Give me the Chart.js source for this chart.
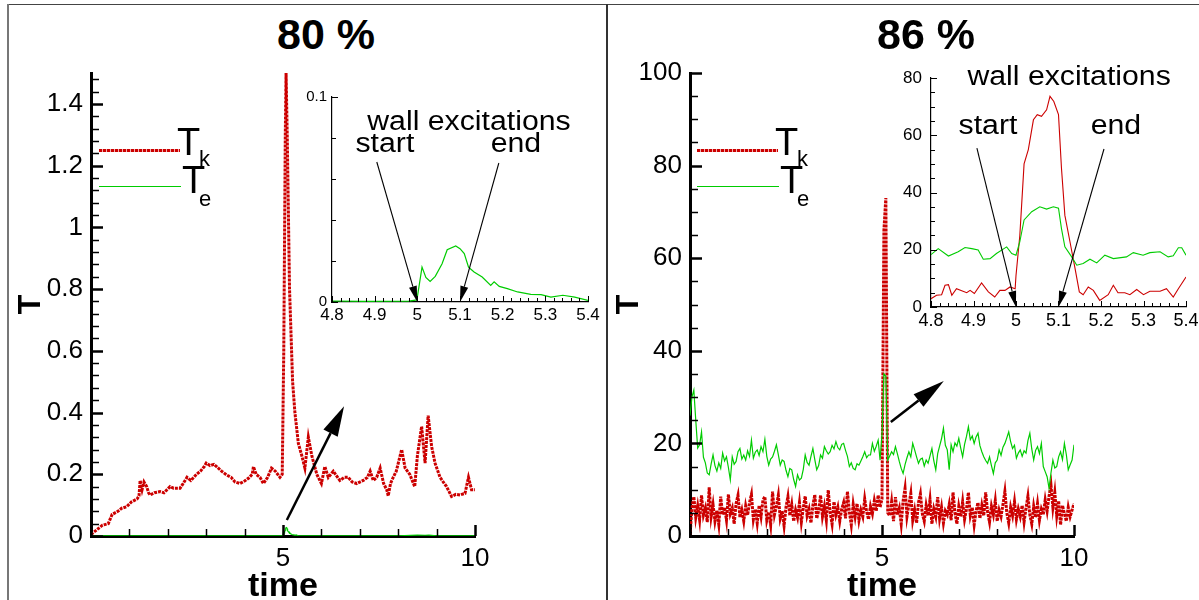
<!DOCTYPE html>
<html>
<head>
<meta charset="utf-8">
<script src="https://cdn.jsdelivr.net/npm/chart.js@4.4.0/dist/chart.umd.min.js"></script>
<style>
  body { margin: 0; background: #fff; }
  #page { position: relative; width: 1199px; height: 600px; overflow: hidden; background: #fff;
          font-family: "Liberation Sans", Arial, Helvetica, sans-serif; color: #000; }
  canvas { position: absolute; }
  .rule { position: absolute; background: #444; }
  .ttl { position: absolute; width: 200px; text-align: center; font-weight: bold; font-size: 43px; line-height: 43px; }
  .sym { position: absolute; font-size: 38px; line-height: 38px; }
  .sub { position: absolute; font-size: 22px; line-height: 22px; }
  .key { position: absolute; }
  .key.k { height: 3px; background: repeating-linear-gradient(to right, #cc0000 0 3px, #f2b0b0 3px 4px); }
  .key.e { height: 1px; background: #00cc00; }
  .over { z-index: 5; }
</style>
</head>
<body>
<div id="page">
  <div class="rule" style="left:8px;top:4px;width:1191px;height:1px"></div>
  <div class="rule" style="left:7px;top:4px;width:2px;height:596px;background:#777"></div>
  <div class="rule" style="left:606px;top:4px;width:2px;height:596px;background:#333"></div>

  <canvas id="leftMain" width="510" height="540" style="left:8px;top:60px"></canvas>
  <canvas id="leftZoom" width="304" height="240" style="left:296px;top:85px"></canvas>
  <canvas id="rightMain" width="500" height="540" style="left:612px;top:60px"></canvas>
  <canvas id="rightZoom" width="299" height="290" style="left:900px;top:40px"></canvas>

  <div class="ttl over" style="left:226px;top:13px">80 %</div>
  <div class="ttl over" style="left:826px;top:13px">86 %</div>

  <div class="key k over" style="left:99px;top:149px;width:81px"></div>
  <div class="key e over" style="left:99px;top:186px;width:82px"></div>
  <div class="sym over" style="left:177px;top:123px">T</div><div class="sub over" style="left:199px;top:148px">k</div>
  <div class="sym over" style="left:182px;top:161px">T</div><div class="sub over" style="left:199px;top:188px">e</div>

  <div class="key k over" style="left:697px;top:149px;width:81px"></div>
  <div class="key e over" style="left:697px;top:186px;width:82px"></div>
  <div class="sym over" style="left:775px;top:123px">T</div><div class="sub over" style="left:797px;top:148px">k</div>
  <div class="sym over" style="left:780px;top:161px">T</div><div class="sub over" style="left:797px;top:188px">e</div>
</div>

<script>
// ---- 80 % case: kinetic (Tk) and elastic (Te) parts over time ----
const leftTime = [0, 0.15, 0.3, 0.45, 0.55, 0.7, 0.8, 0.93, 1.05, 1.2, 1.25, 1.28, 1.33, 1.38, 1.45, 1.5, 1.54, 1.65, 1.8, 1.9,
  2.06, 2.15, 2.32, 2.4, 2.5, 2.6, 2.75, 2.85, 2.95, 3.0, 3.1, 3.2, 3.27, 3.4, 3.53, 3.65, 3.75, 3.88, 4.0, 4.1,
  4.2, 4.23, 4.3, 4.4, 4.49, 4.6, 4.7, 4.8, 4.92, 4.98, 5.02, 5.06, 5.08, 5.11, 5.17, 5.25, 5.31, 5.4, 5.49, 5.57,
  5.66, 5.75, 5.88, 6.0, 6.09, 6.18, 6.31, 6.48, 6.6, 6.7, 6.8, 6.92, 7.09, 7.2, 7.27, 7.35, 7.44, 7.53, 7.62, 7.7,
  7.74, 7.8, 7.87, 7.95, 8.09, 8.18, 8.3, 8.43, 8.5, 8.61, 8.7, 8.78, 8.87, 8.96, 9.09, 9.2, 9.26, 9.39, 9.5, 9.61,
  9.74, 9.83, 9.91, 10];
const leftTk = [0.005, 0.02, 0.035, 0.04, 0.07, 0.08, 0.09, 0.095, 0.11, 0.12, 0.13, 0.18, 0.15, 0.175, 0.16, 0.14, 0.133, 0.14, 0.144, 0.14,
  0.16, 0.155, 0.155, 0.17, 0.19, 0.18, 0.2, 0.21, 0.225, 0.236, 0.228, 0.232, 0.225, 0.21, 0.198, 0.19, 0.175, 0.17, 0.178, 0.187,
  0.2, 0.225, 0.2, 0.19, 0.17, 0.19, 0.22, 0.21, 0.19, 0.2, 0.6, 1.3, 1.5, 1.3, 0.8, 0.5, 0.4, 0.3, 0.26, 0.22,
  0.32, 0.26, 0.2, 0.17, 0.225, 0.19, 0.21, 0.18, 0.19, 0.19, 0.175, 0.17, 0.18, 0.19, 0.21, 0.18, 0.19, 0.22, 0.17, 0.15,
  0.13, 0.17, 0.19, 0.21, 0.28, 0.22, 0.2, 0.16, 0.26, 0.355, 0.236, 0.39, 0.29, 0.236, 0.19, 0.17, 0.16, 0.128, 0.135, 0.133,
  0.138, 0.19, 0.15, 0.15];
const leftTeTime = [0, 2, 4, 4.8, 4.873, 4.98, 4.999, 5.011, 5.02, 5.03, 5.042, 5.058, 5.07, 5.09, 5.1, 5.11, 5.12, 5.133, 5.152, 5.172,
  5.18, 5.192, 5.211, 5.235, 5.266, 5.29, 5.313, 5.341, 5.369, 5.4, 6, 7, 8, 8.5, 8.7, 8.8, 9, 10];
const leftTe = [0.0004, 0.0004, 0.0004, 0.0005, 0.0003, 0.0004, 0.001, 0.017, 0.012, 0.010, 0.0125, 0.0187, 0.0255, 0.0273, 0.026, 0.0236, 0.017, 0.0146, 0.0122, 0.0081,
  0.0098, 0.0076, 0.0065, 0.0049, 0.0037, 0.0036, 0.0024, 0.0033, 0.0024, 0.0008, 0.0005, 0.0004, 0.0008, 0.003, 0.0025, 0.003, 0.0006, 0.0004];

// ---- 86 % case, sampled every 0.05 time units ----
const rightTk = [
  0, 6, 8.5, 4, 6.5, 3.5, 8.8, 4.5, 6, 3, 10.5, 4.2, 6.8, 3.2, 5.5, 2.5, 8.5, 4.6, 6.2, 3.4,
  9, 4.8, 6, 2.6, 7, 8.8, 4, 5.6, 3.2, 6.5, 4.5, 7.2, 9, 3.6, 5.8, 2.8, 6.6, 4.2, 7.8, 8.5,
  3.4, 5.2, 2.4, 9.6, 4.6, 6.4, 8.8, 3.8, 5.4, 2.2, 6.2, 8.5, 4.4, 6.8, 3.2, 5.6, 4, 7.2, 3, 6,
  8.6, 4.4, 5.8, 2.8, 6.6, 8.9, 3.8, 5.4, 8.8, 4.2, 6.4, 3.4, 9.9, 5, 2.6, 7.4, 4.6, 6.2, 3.2, 5.8,
  7.2, 3.8, 9.6, 5.2, 2.4, 6.8, 4.2, 7, 3.4, 5.6, 4.2, 8, 5.2, 3.6, 6.4, 4.8, 7.6, 5.4, 8.8, 6.2,
  8, 66, 73, 5, 4.4, 7.4, 3.2, 8.4, 4.6, 6, 2.6, 7.6, 10.3, 4.2, 6.8, 9.2, 3.4, 5.6, 2.8, 7.2,
  9.1, 4.8, 3.2, 6.6, 4.4, 7.8, 2.6, 5.8, 4.2, 8.4, 3.8, 6.2, 2.8, 5.4, 4.6, 6.8, 3.4, 9.4, 5, 2.6,
  6.4, 4.2, 7.4, 3.6, 5.8, 9.4, 4.4, 6.2, 2.4, 5.4, 7.2, 3.8, 6.6, 4.4, 9.4, 5.2, 3, 6.4, 4.6, 7.6,
  3.2, 5.6, 4.2, 6.8, 9.6, 5, 2.8, 6.2, 4.4, 7.4, 3.6, 5.8, 4.2, 6.6, 3, 6, 8.6, 4.6, 2.6, 6.4,
  4, 7, 3.4, 5.8, 4.6, 7.8, 5.4, 8.6, 11, 6.2, 9.4, 4.4, 7.6, 2.4, 6.6, 4.8, 3.2, 6.2, 4.2, 5.6,
  7];
const rightTe = [
  26, 30, 31.5, 25, 19, 19.7, 22.5, 17, 15.8, 13.6, 13.2, 15.5, 17.5, 15.2, 14, 15.8, 14.6, 17.9, 16.2, 17.1,
  14.8, 12.1, 17.1, 15.5, 16.1, 18.2, 18.9, 16.6, 17.5, 16.4, 18.4, 17.2, 20.7, 16.8, 18.1, 18.6, 17.4, 19.3, 18.2, 20.9,
  17.2, 15.3, 16.6, 17.1, 18.3, 19.7, 17.6, 15.3, 16.4, 16.1, 14.2, 12.8, 14.6, 14.3, 12.2, 10.7, 13.2, 12.1, 12.5, 14.4,
  17.5, 15.9, 15.3, 17.2, 18.9, 16.5, 14.3, 15.2, 17.5, 16.8, 19.3, 18.4, 17.7, 18.2, 19.6, 18.8, 20.4, 19.1, 18.6, 19.8,
  20, 18.5, 17.2, 15, 15.8, 14.6, 14.3, 15.6, 15.3, 16.2, 17.1, 18.2, 16.9, 17.5, 17.5, 20, 18.3, 19.4, 20.7, 16.4,
  22, 35, 34.5, 16.4, 17.3, 18.2, 17.6, 19.3, 17.8, 16.1, 14.6, 13.5, 15.4, 16.9, 18.2, 17.1, 20, 18.6, 17.1, 15.7,
  16.6, 16.8, 15.1, 16.4, 15.7, 17.3, 18.9, 16.2, 14.3, 17.8, 19.4, 21, 23.3, 19.6, 18.6, 14.3, 19.7, 18.2, 20.1, 19.4,
  21.1, 19, 17.1, 19.8, 21.5, 23.6, 20.8, 21.6, 20, 21.4, 22.2, 19.5, 18.2, 17.1, 16.3, 15.7, 17.1, 15.2, 13.5, 15.8,
  16.4, 18.6, 17.4, 19.2, 20, 21.2, 22.5, 20.4, 18.9, 19.6, 16.8, 17.9, 18.6, 17.2, 18.4, 17.9, 20.6, 22.2, 18.8, 16.4,
  18.5, 19.3, 17.8, 20, 15, 13.9, 12.8, 10.3, 13.6, 16.4, 14.7, 15, 17.1, 18.2, 16.5, 20, 17.6, 14.3, 15.4, 16.4,
  19.7];
const rightTime = rightTk.map((_, i) => i * 0.05);

// ---- 86 % case, close-up of the excitation window ----
const zoomTkTime = [4.8, 4.813, 4.825, 4.833, 4.841, 4.849, 4.86, 4.884, 4.892, 4.902, 4.919, 4.935, 4.95, 4.962, 4.974, 4.986, 4.998, 5.0, 5.009, 5.019,
  5.029, 5.041, 5.05, 5.06, 5.072, 5.08, 5.089, 5.1, 5.107, 5.115, 5.127, 5.139, 5.149, 5.158, 5.17, 5.182, 5.197, 5.217, 5.229, 5.24,
  5.256, 5.268, 5.284, 5.3, 5.315, 5.339, 5.354, 5.37, 5.382, 5.4];
const zoomTk = [2.9, 4.1, 4.3, 7.6, 7.8, 4.1, 6.4, 5.0, 5.8, 4.7, 8.4, 5.3, 3.5, 5.8, 5.8, 7.0, 6.4, 11, 25, 50,
  55, 65.4, 67.2, 66.6, 68.9, 73.6, 71.8, 67.2, 48.5, 32, 22.8, 13.4, 5.3, 4.3, 7.0, 5.8, 2.3, 4.3, 7.6, 5.0,
  5.0, 4.3, 6.1, 4.3, 5.5, 5.5, 6.4, 3.5, 6.4, 10.5];
const zoomTeTime = [4.8, 4.817, 4.841, 4.864, 4.88, 4.896, 4.911, 4.923, 4.939, 4.954, 4.978, 4.99, 5.0, 5.009, 5.019, 5.037, 5.056, 5.072, 5.088, 5.1,
  5.107, 5.115, 5.131, 5.143, 5.158, 5.174, 5.19, 5.209, 5.229, 5.26, 5.276, 5.299, 5.315, 5.339, 5.358, 5.37, 5.382, 5.39, 5.4];
const zoomTe = [18.3, 20.4, 17.8, 19.3, 20.8, 20.4, 19.9, 16.7, 16.9, 18.7, 21.0, 18.7, 18.1, 22.8, 30.4, 33.3, 35.0, 34.2, 35.0, 34.5,
  27.4, 21.0, 17.5, 14.6, 15.2, 16.7, 15.4, 18.1, 16.9, 17.5, 19.0, 18.1, 19.0, 19.3, 17.5, 17.9, 20.7, 20.7, 18.1];

// start and end of the wall excitation
const excitationStart = 5.0;
const excitationEnd = 5.1;

const RED = '#cc0000';
const GREEN = '#00cc00';
const FONT = '"Liberation Sans", Arial, Helvetica, sans-serif';

const pts = (xs, ys) => xs.map((x, i) => ({ x, y: ys[i] }));
const onStep = (v, step) => Math.abs(v / step - Math.round(v / step)) < 1e-6;

// ticks drawn inward from the axis lines, long on labelled values
const innerTicks = {
  id: 'innerTicks',
  afterDraw(chart, args, opts) {
    const { ctx, chartArea: a } = chart;
    ctx.save();
    ctx.strokeStyle = '#000';
    ['x', 'y'].forEach((id) => {
      const o = opts[id];
      const scale = chart.scales[id];
      scale.ticks.forEach((t) => {
        const major = onStep(t.value, o.major);
        const len = major ? o.long : o.short;
        const p = Math.round(scale.getPixelForValue(t.value)) + 0.5;
        ctx.lineWidth = major ? o.wide : o.thin;
        ctx.beginPath();
        if (id === 'x') { ctx.moveTo(p, a.bottom); ctx.lineTo(p, a.bottom - len); }
        else { ctx.moveTo(a.left, p); ctx.lineTo(a.left + len, p); }
        ctx.stroke();
      });
    });
    ctx.restore();
  }
};

// arrows and captions placed in data coordinates
const notes = {
  id: 'notes',
  afterDraw(chart, args, opts) {
    const { ctx, scales: { x, y } } = chart;
    ctx.save();
    ctx.fillStyle = ctx.strokeStyle = '#000';
    (opts.arrows || []).forEach((ar) => {
      const x0 = x.getPixelForValue(ar.from[0]), y0 = y.getPixelForValue(ar.from[1]);
      const x1 = x.getPixelForValue(ar.to[0]), y1 = y.getPixelForValue(ar.to[1]);
      const ang = Math.atan2(y1 - y0, x1 - x0);
      const [hl, hw] = opts.head;
      const bx = x1 - hl * Math.cos(ang), by = y1 - hl * Math.sin(ang);
      ctx.lineWidth = opts.lineWidth;
      ctx.beginPath(); ctx.moveTo(x0, y0); ctx.lineTo(bx, by); ctx.stroke();
      ctx.beginPath();
      ctx.moveTo(x1, y1);
      ctx.lineTo(bx + hw * Math.sin(ang), by - hw * Math.cos(ang));
      ctx.lineTo(bx - hw * Math.sin(ang), by + hw * Math.cos(ang));
      ctx.closePath();
      ctx.fill();
    });
    (opts.labels || []).forEach((l) => {
      ctx.save();
      ctx.translate(x.getPixelForValue(l.at[0]), y.getPixelForValue(l.at[1]));
      ctx.scale(1.12, 1);
      ctx.font = opts.font;
      ctx.textAlign = 'center';
      ctx.textBaseline = 'middle';
      ctx.fillText(l.text, 0, 0);
      ctx.restore();
    });
    ctx.restore();
  }
};

function axis(o) {
  return {
    type: 'linear',
    position: o.position,
    min: o.min,
    max: o.max,
    afterFit(s) {
      if (s.isHorizontal()) s.height = o.size; else s.width = o.size;
      s.paddingLeft = s.paddingRight = s.paddingTop = s.paddingBottom = 0;
    },
    border: { color: '#000', width: o.line },
    grid: { drawOnChartArea: false, drawTicks: false },
    ticks: {
      stepSize: o.minor,
      autoSkip: false,
      maxRotation: 0,
      includeBounds: false,
      padding: o.pad,
      color: '#000',
      font: { family: FONT, size: o.fontSize },
      callback: (v) => (onStep(v, o.major) && (!o.show || o.show(v))) ? String(+v.toFixed(3)) : ''
    },
    title: o.title
      ? { display: true, text: o.title, color: '#000', padding: o.titlePad,
          font: { family: FONT, size: o.titleSize, weight: 'bold', lineHeight: o.titleLh } }
      : { display: false }
  };
}

function line(data, color, width, dash) {
  return {
    data, borderColor: color, borderWidth: width, borderDash: dash || [],
    pointRadius: 0, tension: 0, fill: false
  };
}

function panel(id, pad, scales, datasets, ticks, noteOpts) {
  return new Chart(document.getElementById(id), {
    type: 'line',
    data: { datasets },
    options: {
      responsive: false,
      animation: false,
      devicePixelRatio: 1,
      layout: { padding: pad },
      plugins: { legend: { display: false }, tooltip: { enabled: false }, innerTicks: ticks, notes: noteOpts },
      scales
    },
    plugins: [innerTicks, notes]
  });
}

const mainX = { major: 5, long: 11, short: 7, wide: 2.5, thin: 1.5 };
const closeTicks = (major) => ({ major, long: 6, short: 4, wide: 1, thin: 1 });

// 80 % main panel
panel('leftMain', { left: 0, top: 13, right: 43, bottom: 0 }, {
  x: axis({ position: 'bottom', min: 0, max: 10, minor: 1, major: 5, show: (v) => v > 0, size: 64, line: 3,
            pad: 7, fontSize: 26, title: 'time', titleSize: 34, titleLh: 0.8, titlePad: 0 }),
  y: axis({ position: 'left', min: 0, max: 1.5, minor: 0.04, major: 0.2, size: 83, line: 3,
            pad: 8, fontSize: 26, title: 'T', titleSize: 32, titleLh: 1, titlePad: 7 })
}, [
  line(pts(leftTeTime, leftTe), GREEN, 1.2),
  line(pts(leftTime, leftTk), RED, 3, [3, 1])
], {
  x: mainX,
  y: { major: 0.2, long: 12, short: 8, wide: 2.5, thin: 1.5 }
}, {
  arrows: [{ from: [5.1, 0.052], to: [6.59, 0.42] }], head: [30, 8], lineWidth: 2.5
});

// 80 % close-up
panel('leftZoom', { left: 0, top: 12, right: 12, bottom: 0 }, {
  x: axis({ position: 'bottom', min: 4.8, max: 5.4, minor: 0.02, major: 0.1, size: 23, line: 1.2, pad: 3, fontSize: 17 }),
  y: axis({ position: 'left', min: 0, max: 0.1, minor: 0.02, major: 0.1, size: 36, line: 1.2, pad: 5, fontSize: 15 })
}, [
  line(pts(leftTeTime, leftTe), GREEN, 1.2)
], {
  x: closeTicks(0.1),
  y: closeTicks(0.1)
}, {
  font: '27px ' + FONT, head: [16, 4], lineWidth: 1.1,
  arrows: [
    { from: [4.905, 0.0683], to: [excitationStart, 0] },
    { from: [5.191, 0.0678], to: [excitationEnd, 0] }
  ],
  labels: [
    { text: 'wall excitations', at: [5.121, 0.0873] },
    { text: 'start', at: [4.924, 0.0766] },
    { text: 'end', at: [5.231, 0.0766] }
  ]
});

// 86 % main panel
panel('rightMain', { left: 0, top: 13, right: 38, bottom: 0 }, {
  x: axis({ position: 'bottom', min: 0, max: 10, minor: 1, major: 5, show: (v) => v > 0, size: 64, line: 3,
            pad: 7, fontSize: 26, title: 'time', titleSize: 34, titleLh: 0.8, titlePad: 0 }),
  y: axis({ position: 'left', min: 0, max: 100, minor: 5, major: 20, size: 78, line: 3,
            pad: 8, fontSize: 26, title: 'T', titleSize: 32, titleLh: 1, titlePad: 1 })
}, [
  line(pts(rightTime, rightTe), GREEN, 1.2),
  line(pts(rightTime, rightTk), RED, 3, [3, 1])
], {
  x: mainX,
  y: { major: 20, long: 12, short: 8, wide: 2.5, thin: 1.5 }
}, {
  arrows: [{ from: [5.23, 24.6], to: [6.61, 33.5] }], head: [32, 8], lineWidth: 2.5
});

// 86 % close-up
panel('rightZoom', { left: 0, top: 38, right: 13, bottom: 0 }, {
  x: axis({ position: 'bottom', min: 4.8, max: 5.4, minor: 0.02, major: 0.1, size: 23, line: 1.2, pad: 3, fontSize: 18 }),
  y: axis({ position: 'left', min: 0, max: 80, minor: 5, major: 20, size: 31, line: 1.2, pad: 9, fontSize: 17 })
}, [
  line(pts(zoomTeTime, zoomTe), GREEN, 1.1),
  line(pts(zoomTkTime, zoomTk), RED, 1.1)
], {
  x: closeTicks(0.1),
  y: closeTicks(20)
}, {
  font: '27px ' + FONT, head: [16, 4], lineWidth: 1.1,
  arrows: [
    { from: [4.908, 55.5], to: [excitationStart, 0] },
    { from: [5.207, 55.2], to: [excitationEnd, 0] }
  ],
  labels: [
    { text: 'wall excitations', at: [5.125, 80.3] },
    { text: 'start', at: [4.934, 62.9] },
    { text: 'end', at: [5.235, 62.9] }
  ]
});
</script>
</body>
</html>
